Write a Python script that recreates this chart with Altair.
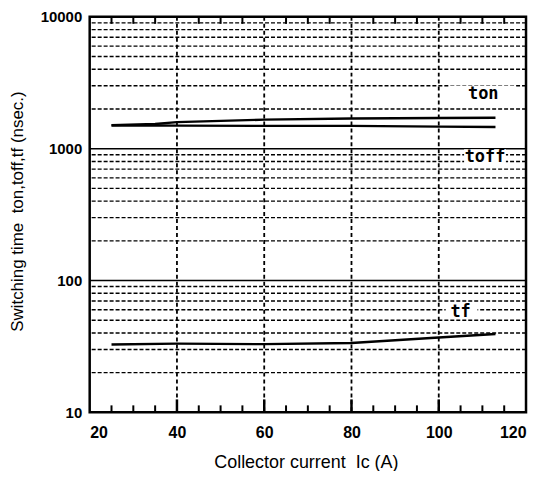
import altair as alt
import pandas as pd

# ---- data ----
ic = [25, 35, 40, 60, 80, 100, 113]
ton = [1510, 1540, 1590, 1660, 1695, 1710, 1715]
toff = [1500, 1498, 1495, 1490, 1490, 1470, 1460]
ic_tf = [25, 40, 60, 80, 100, 113]
tf = [32.7, 33.2, 32.9, 33.6, 37.0, 39.3]

label_text = ["ton", "toff", "tf"]
label_ic = [110.2, 110.6, 105.0]
label_val = [2580, 860, 58]

x_labels = [20, 40, 60, 80, 100, 120]
y_labels = [10, 100, 1000, 10000]
y_dashed = [20, 30, 40, 50, 60, 70, 80, 90,
            200, 300, 400, 500, 600, 700, 800, 900,
            2000, 3000, 4000, 5000, 6000, 7000, 8000, 9000]
y_solid = [100, 1000]
x_grid = [40, 60, 80, 100]
x_minor = [25, 30, 35, 45, 50, 55, 65, 70, 75, 85, 90, 95, 105, 110, 115]

x_title = "Collector current\u00a0\u00a0Ic (A)"
y_title = "Switching time\u00a0\u00a0ton,toff,tf (nsec.)"

W, H = 438, 397

xs = alt.Scale(type="linear", domain=[20, 120], nice=False, zero=False)
ys = alt.Scale(type="log", domain=[10, 10000], nice=False)

curves = pd.DataFrame(
    [{"Ic": a, "t": b, "s": "ton"} for a, b in zip(ic, ton)]
    + [{"Ic": a, "t": b, "s": "toff"} for a, b in zip(ic, toff)]
    + [{"Ic": a, "t": b, "s": "tf"} for a, b in zip(ic_tf, tf)]
)
labels = pd.DataFrame({"txt": label_text, "Ic": label_ic, "t": label_val})

x_axis = alt.Axis(values=x_labels, grid=False, ticks=False,
                  labelFont="Liberation Sans", labelFontWeight="bold",
                  labelFontSize=16, labelColor="black", labelPadding=12,
                  domain=False,
                  title=x_title,
                  titleFont="Liberation Sans", titleFontWeight="normal",
                  titleFontSize=18, titleColor="black",
                  titleBaseline="middle", titleX=217, titleY=50,
                  titleAnchor="middle")
y_axis = alt.Axis(values=y_labels, grid=False, ticks=False,
                  format="d",
                  labelFont="Liberation Sans", labelFontWeight="bold",
                  labelFontSize=15, labelColor="black", labelPadding=8,
                  domain=False,
                  title=y_title,
                  titleFont="Liberation Sans", titleFontWeight="normal",
                  titleFontSize=17, titleColor="black",
                  titleAngle=270, titleBaseline="middle",
                  titleX=-72, titleY=195, titleAnchor="middle")

X = lambda: alt.X("Ic:Q", scale=xs)
Y = lambda: alt.Y("t:Q", scale=ys)

dashed_h = alt.Chart(pd.DataFrame({"t": y_dashed})).mark_rule(
    color="black", strokeWidth=1.4, strokeDash=[4, 2]
).encode(y=Y())

solid_h = alt.Chart(pd.DataFrame({"t": y_solid})).mark_rule(
    color="black", strokeWidth=1.6
).encode(y=Y())

dashed_v = alt.Chart(pd.DataFrame({"Ic": x_grid})).mark_rule(
    color="black", strokeWidth=1.8, strokeDash=[4, 3]
).encode(x=X())

minor_bot = alt.Chart(pd.DataFrame({"Ic": x_minor})).mark_rule(
    color="black", strokeWidth=2
).encode(x=X(), y=alt.value(H), y2=alt.value(H - 7))
minor_top = alt.Chart(pd.DataFrame({"Ic": x_minor})).mark_rule(
    color="black", strokeWidth=2
).encode(x=X(), y=alt.value(0), y2=alt.value(7))
major_bot = alt.Chart(pd.DataFrame({"Ic": x_grid})).mark_rule(
    color="black", strokeWidth=2.5
).encode(x=X(), y=alt.value(H), y2=alt.value(H - 13))

box_shapes = {
    "ton": "M-34,-9H33V9H-34Z",
    "toff": "M-21,-8H21V9H-21Z",
    "tf": "M-15,-7H17V6H-15Z",
}
boxes = []
for name, path in box_shapes.items():
    boxes.append(
        alt.Chart(labels).transform_filter(alt.datum.txt == name)
        .mark_point(shape=path, filled=True, color="white", opacity=1, size=4)
        .encode(x=X(), y=Y())
    )

lines = alt.Chart(curves).mark_line(color="black", strokeWidth=2.4).encode(
    x=alt.X("Ic:Q", scale=xs, axis=x_axis),
    y=alt.Y("t:Q", scale=ys, axis=y_axis),
    detail="s:N",
)

texts = alt.Chart(labels).mark_text(
    font="DejaVu Sans Mono", fontWeight="bold", fontSize=17, color="black",
    baseline="middle", align="center"
).encode(x=X(), y=Y(), text="txt:N")

chart = alt.layer(
    lines, dashed_h, solid_h, dashed_v, minor_bot, minor_top, major_bot,
    *boxes, texts
).properties(
    width=W, height=H,
    background="white",
    autosize=alt.AutoSizeParams(type="none"),
    padding={"left": 82, "top": 8, "right": 5, "bottom": 58},
).configure_view(
    stroke="black", strokeWidth=2.5
)

chart.save("out.html", embed_options={"renderer": "svg", "actions": False})
